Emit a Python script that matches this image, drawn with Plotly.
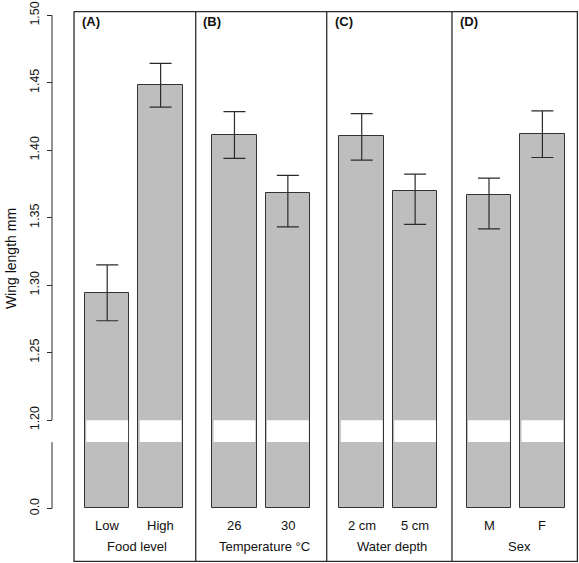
import plotly.graph_objects as go

# ---- data ----
panel_letters = ["(A)", "(B)", "(C)", "(D)"]
factor_names = ["Food level", "Temperature °C", "Water depth", "Sex"]
level_labels = [["Low", "High"], ["26", "30"], ["2 cm", "5 cm"], ["M", "F"]]
means = [[1.2945, 1.4483], [1.4114, 1.3685], [1.4103, 1.3695], [1.3670, 1.4118]]
upper = [[1.3150, 1.4643], [1.4286, 1.3813], [1.4271, 1.3823], [1.3793, 1.4291]]
lower = [[1.2736, 1.4320], [1.3939, 1.3431], [1.3926, 1.3450], [1.3417, 1.3946]]
y_tick_values = [0.0, 1.20, 1.25, 1.30, 1.35, 1.40, 1.45, 1.50]
y_tick_text = ["0.0", "1.20", "1.25", "1.30", "1.35", "1.40", "1.45", "1.50"]

# ---- broken axis mapping ----
BREAK_HI = 1.20          # upper segment starts here
ZERO_DISP = 1.13442      # display position of 0.0
GAP_LO = 1.1836          # lower end of the gap
def disp(v):
    return v if v >= BREAK_HI else ZERO_DISP + v  # only 0.0 used below break

FONT = "Liberation Sans, Arial, Helvetica, sans-serif"
GREY = "#bebebe"
DARK = "#2b2b2b"

x_centers, ys, eplus, eminus, texts = [], [], [], [], []
for i in range(4):
    for j in range(2):
        x_centers.append(0.746 + 2.86 * i + 1.2 * j)
        ys.append(means[i][j] - ZERO_DISP)
        eplus.append(upper[i][j] - means[i][j])
        eminus.append(means[i][j] - lower[i][j])
        texts.append(level_labels[i][j])

fig = go.Figure()
fig.add_trace(go.Bar(
    x=x_centers, y=ys, base=ZERO_DISP, width=1.0,
    marker=dict(color=GREY, line=dict(color="#333333", width=1)),
    error_y=dict(type="data", symmetric=False, array=eplus, arrayminus=eminus,
                 color=DARK, thickness=1.2, width=11),
    hoverinfo="skip", showlegend=False,
))

shapes = []
# white band at the axis break through each bar (outline kept)
for xc in x_centers:
    shapes.append(dict(type="rect", xref="x", yref="y",
                       x0=xc - 0.5 + 0.03, x1=xc + 0.5 - 0.03,
                       y0=GAP_LO + 0.0002, y1=BREAK_HI - 0.0002,
                       fillcolor="white", line=dict(width=0), layer="above"))
# panel frame
XMAX = 11.326
dividers = [2.735, 5.679, 8.494]
YMIN, YMAX = 1.09476, 1.50318
X0P = 22 / 526
TOPP = 1 - 0.6 / 553
for (x0, y0, x1, y1) in [(X0P, 0, X0P, TOPP), (1 - 0.6 / 526, 0, 1 - 0.6 / 526, TOPP),
                         (X0P, TOPP, 1, TOPP), (X0P, 0.6 / 553, 1, 0.6 / 553)]:
    shapes.append(dict(type="line", xref="paper", yref="paper", x0=x0, x1=x1, y0=y0, y1=y1,
                       line=dict(color=DARK, width=1.3), layer="above"))
for d in dividers:
    shapes.append(dict(type="line", xref="x", yref="paper", x0=d, x1=d, y0=0, y1=TOPP,
                       line=dict(color=DARK, width=1.3), layer="above"))
# broken y axis lines
shapes.append(dict(type="line", xref="paper", yref="y", x0=0, x1=0,
                   y0=BREAK_HI, y1=1.50, line=dict(color=DARK, width=1)))
shapes.append(dict(type="line", xref="paper", yref="y", x0=0, x1=0,
                   y0=ZERO_DISP, y1=GAP_LO, line=dict(color=DARK, width=1)))

annotations = []
for k, xc in enumerate(x_centers):
    annotations.append(dict(x=xc, y=1.1221, xref="x", yref="y", text=texts[k],
                            showarrow=False, font=dict(size=13, family=FONT, color="#111")))
for i in range(4):
    mid = (x_centers[2 * i] + x_centers[2 * i + 1]) / 2 + 0.08
    annotations.append(dict(x=mid, y=1.1066, xref="x", yref="y", text=factor_names[i],
                            showarrow=False, font=dict(size=13, family=FONT, color="#111")))
    left = 0 if i == 0 else dividers[i - 1]
    annotations.append(dict(x=left + 0.13, y=1.4955, xref="x", yref="y",
                            text="<b>" + panel_letters[i] + "</b>", xanchor="left",
                            showarrow=False, font=dict(size=13, family=FONT, color="#111")))
annotations.append(dict(xref="paper", yref="paper", x=-41 / 526, y=(562 - 258) / 553,
                        xanchor="center", yanchor="middle", text="Wing length mm",
                        showarrow=False, textangle=-90,
                        font=dict(size=14, family=FONT, color="#111")))

fig.update_layout(
    width=579, height=563,
    margin=dict(l=52, r=1, t=9, b=1, pad=0),
    paper_bgcolor="white", plot_bgcolor="white",
    xaxis=dict(range=[0, XMAX], domain=[X0P, 1], showticklabels=False,
               ticks="", showgrid=False, zeroline=False, showline=False),
    yaxis=dict(range=[YMIN, YMAX], anchor="free", position=0,
               tickvals=[disp(v) for v in y_tick_values], ticktext=y_tick_text,
               tickangle=-90, ticks="outside", ticklen=5, tickwidth=1, tickcolor=DARK,
               tickfont=dict(size=12.5, family=FONT, color="#111"),
               ticklabeloverflow="allow",
               showgrid=False, zeroline=False, showline=False, ticklabelstandoff=3),
    shapes=shapes, annotations=annotations,
    bargap=0,
)
fig.write_html("out.html", config={"displayModeBar": False},
               post_script="document.body.style.margin='0';document.body.style.overflow='hidden';")
